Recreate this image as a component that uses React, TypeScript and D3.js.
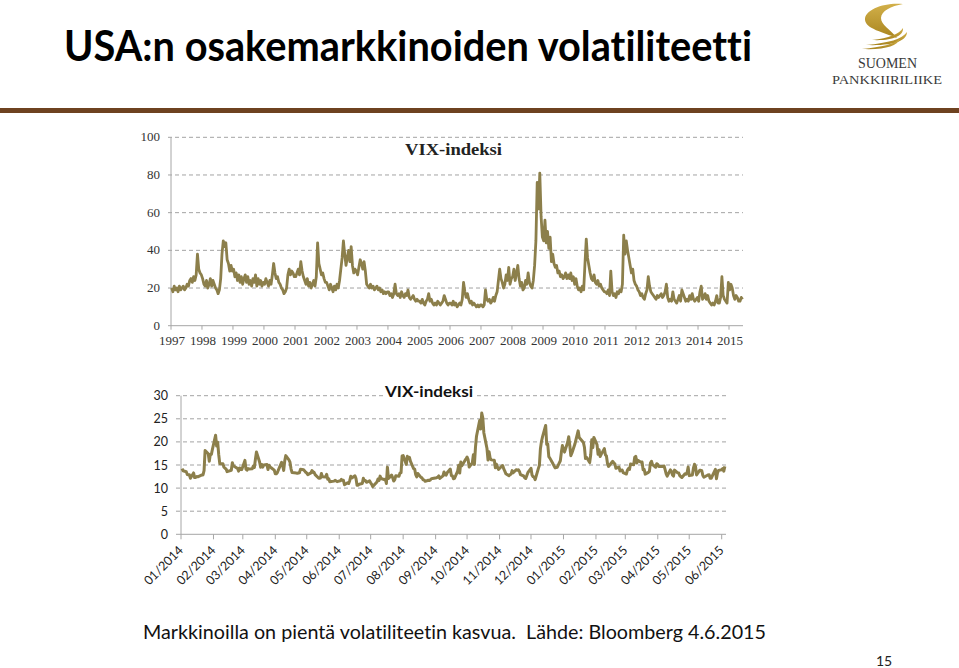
import React from 'react';
import * as d3 from 'd3';

// ---------- data ----------
// Top chart: VIX, two readings per month, one array per year
const vix1997 = [20, 18, 21, 19, 20, 18, 21, 19, 20, 21, 19, 20, 22, 21, 24, 25, 23, 26, 24, 27, 38, 30, 28, 27];
const vix1998 = [25, 22, 21, 24, 20, 22, 25, 21, 24, 22, 20, 19, 17, 19, 25, 38, 45, 42, 44, 35, 33, 29, 32, 29];
const vix1999 = [30, 26, 28, 24, 27, 23, 26, 22, 25, 27, 23, 26, 22, 24, 21, 25, 23, 27, 21, 25, 22, 24, 21, 23];
const vix2000 = [22, 25, 23, 21, 24, 22, 27, 33, 28, 25, 26, 23, 22, 20, 19, 17, 18, 20, 27, 30, 27, 29, 28, 26];
const vix2001 = [26, 28, 30, 27, 34, 29, 26, 24, 22, 25, 21, 23, 20, 22, 24, 21, 26, 44, 33, 30, 27, 28, 25, 23];
const vix2002 = [23, 21, 19, 22, 20, 18, 21, 19, 22, 20, 24, 30, 36, 45, 38, 32, 36, 40, 34, 42, 32, 28, 30, 29];
const vix2003 = [27, 31, 35, 33, 30, 34, 29, 22, 21, 20, 22, 20, 21, 19, 20, 21, 19, 20, 18, 19, 17, 18, 17, 18];
const vix2004 = [18, 16, 17, 15, 17, 22, 17, 16, 17, 15, 18, 16, 15, 17, 16, 19, 15, 14, 15, 16, 14, 13, 14, 13];
const vix2005 = [13, 12, 14, 12, 11, 13, 14, 17, 13, 14, 12, 11, 12, 11, 13, 12, 11, 12, 13, 16, 14, 12, 11, 12];
const vix2006 = [12, 11, 13, 11, 12, 10, 11, 12, 11, 14, 23, 18, 15, 17, 14, 12, 13, 11, 12, 11, 10, 11, 10, 11];
const vix2007 = [11, 10, 11, 19, 14, 13, 14, 12, 13, 15, 13, 16, 18, 24, 30, 25, 23, 20, 22, 27, 24, 31, 22, 25];
const vix2008 = [26, 30, 24, 28, 32, 25, 21, 23, 19, 20, 24, 22, 28, 23, 21, 20, 24, 32, 45, 76, 62, 81, 58, 47];
const vix2009 = [45, 56, 44, 50, 41, 47, 34, 38, 33, 31, 32, 28, 29, 26, 27, 25, 26, 28, 25, 27, 25, 28, 24, 26];
const vix2010 = [22, 25, 21, 19, 20, 18, 21, 19, 33, 46, 36, 32, 28, 25, 24, 27, 23, 22, 24, 21, 22, 20, 19, 18];
const vix2011 = [18, 17, 19, 16, 29, 18, 16, 17, 15, 18, 17, 19, 18, 22, 48, 38, 45, 40, 36, 32, 28, 30, 24, 22];
const vix2012 = [21, 19, 18, 16, 17, 15, 14, 17, 19, 26, 21, 18, 17, 16, 15, 14, 16, 15, 16, 17, 15, 16, 18, 22];
const vix2013 = [15, 13, 14, 13, 18, 14, 13, 12, 14, 16, 13, 19, 17, 15, 13, 14, 13, 16, 14, 17, 14, 13, 14, 15];
const vix2014 = [13, 18, 21, 14, 15, 17, 14, 16, 13, 12, 11, 12, 11, 13, 16, 12, 12, 15, 26, 16, 14, 13, 12, 23];
const vix2015 = [19, 22, 20, 16, 14, 16, 15, 13, 13, 15, 14];
const topYears = [1997, 1998, 1999, 2000, 2001, 2002, 2003, 2004, 2005, 2006, 2007, 2008, 2009, 2010, 2011, 2012, 2013, 2014, 2015];
const topYearValues = [vix1997, vix1998, vix1999, vix2000, vix2001, vix2002, vix2003, vix2004, vix2005, vix2006, vix2007, vix2008, vix2009, vix2010, vix2011, vix2012, vix2013, vix2014, vix2015];
const topYTicks = [0, 20, 40, 60, 80, 100];
const topXLabels = ['1997', '1998', '1999', '2000', '2001', '2002', '2003', '2004', '2005', '2006', '2007', '2008', '2009', '2010', '2011', '2012', '2013', '2014', '2015'];

// Bottom chart: daily VIX closes, one array per month
const daily2014 = [
  [14.23, 13.76, 13.55, 12.92, 12.87, 12.89, 12.14, 13.28, 12.28, 12.28, 12.53, 12.44, 12.87, 12.84, 13.77, 18.14, 17.42, 15.8, 17.35, 17.29, 18.41],
  [21.44, 19.11, 19.95, 17.23, 15.29, 15.26, 14.51, 14.3, 14.15, 13.57, 13.87, 15.5, 14.79, 14.68, 14.23, 13.67, 14.35, 14.04, 14.0],
  [16.0, 14.1, 13.89, 14.21, 14.11, 14.2, 14.8, 14.47, 16.22, 17.82, 15.64, 14.52, 15.12, 14.52, 15.0, 15.09, 14.02, 14.93, 14.62, 14.41, 13.88],
  [13.1, 13.09, 13.37, 13.96, 15.57, 14.89, 13.82, 15.89, 17.03, 16.11, 15.61, 14.18, 13.36, 13.25, 13.19, 13.27, 13.32, 14.06, 13.97, 13.71, 13.41],
  [13.25, 12.91, 13.29, 13.8, 13.4, 13.43, 12.92, 12.23, 12.13, 12.17, 13.17, 12.44, 12.42, 12.96, 11.91, 12.03, 11.36, 11.51, 11.68, 11.57, 11.4],
  [11.58, 11.87, 11.68, 11.68, 10.73, 11.15, 10.99, 11.6, 12.56, 12.18, 12.65, 12.06, 10.61, 10.62, 10.85, 10.98, 12.13, 11.59, 11.63, 11.26, 11.57],
  [11.15, 10.82, 10.32, 11.33, 11.98, 11.65, 12.59, 12.08, 11.82, 11.96, 11.0, 14.54, 12.06, 12.81, 12.24, 11.52, 11.84, 12.69, 12.56, 13.28, 13.33, 16.95],
  [17.03, 15.12, 16.87, 16.37, 16.66, 15.77, 14.23, 14.13, 12.9, 12.42, 13.15, 12.32, 12.21, 11.78, 11.76, 11.47, 11.7, 11.63, 11.78, 12.05, 12.09],
  [12.25, 12.36, 12.64, 12.09, 12.66, 13.5, 12.88, 12.8, 13.31, 14.12, 12.73, 12.65, 12.03, 12.11, 13.69, 14.93, 13.27, 15.64, 14.85, 15.98, 16.31],
  [16.71, 16.16, 14.55, 15.46, 17.2, 15.11, 18.76, 21.24, 24.64, 22.79, 26.25, 25.2, 21.99, 18.57, 16.08, 17.87, 16.53, 16.11, 16.04, 14.39, 15.15, 14.52, 14.03],
  [14.73, 14.89, 14.17, 13.67, 13.12, 12.67, 12.92, 13.02, 13.79, 13.31, 13.99, 13.86, 13.96, 13.58, 12.9, 12.62, 12.25, 12.07, 13.33],
  [14.29, 12.85, 12.47, 12.38, 11.82, 14.21, 14.89, 18.53, 20.08, 21.08, 23.57, 19.44, 19.52, 16.81, 16.49, 15.25, 14.8, 14.37, 14.5, 15.92, 17.79, 19.2],
];
const daily2015 = [
  [17.79, 19.92, 21.12, 19.31, 17.01, 17.55, 19.6, 20.56, 21.48, 22.39, 20.95, 19.89, 18.85, 16.4, 16.66, 15.52, 17.22, 20.44, 18.76, 20.97],
  [19.43, 17.33, 18.33, 16.85, 17.29, 18.55, 17.23, 16.96, 15.34, 14.69, 15.8, 15.45, 15.29, 14.3, 14.56, 13.69, 13.84, 13.91, 13.34],
  [13.04, 13.86, 14.23, 14.04, 15.2, 15.06, 16.69, 16.87, 15.42, 16.0, 15.61, 15.66, 13.97, 14.07, 13.02, 13.41, 13.62, 15.44, 15.8, 15.07, 14.51, 15.29],
  [15.11, 14.67, 14.74, 14.78, 13.98, 13.09, 12.58, 13.94, 13.67, 12.84, 12.6, 13.89, 13.3, 13.25, 12.71, 12.48, 12.29, 13.12, 13.03, 13.39, 14.55],
  [12.7, 12.85, 14.31, 15.15, 14.71, 12.86, 13.85, 13.86, 13.76, 12.74, 12.38, 12.73, 12.85, 12.88, 12.11, 12.13, 14.06, 12.03, 13.31, 13.84],
  [13.97, 14.24, 13.66, 14.71],
];
const marketHolidays = ['2014-01-01', '2014-01-20', '2014-02-17', '2014-04-18', '2014-05-26', '2014-07-04', '2014-09-01', '2014-11-27', '2014-12-25', '2015-01-01', '2015-01-19', '2015-02-16', '2015-04-03', '2015-05-25'];
const bottomYTicks = [0, 5, 10, 15, 20, 25, 30];
const monthLabels = ['01/2014', '02/2014', '03/2014', '04/2014', '05/2014', '06/2014', '07/2014', '08/2014', '09/2014', '10/2014', '11/2014', '12/2014', '01/2015', '02/2015', '03/2015', '04/2015', '05/2015', '06/2015'];

const titleText = 'USA:n osakemarkkinoiden volatiliteetti';
const chartTitle = 'VIX-indeksi';
const footerText = 'Markkinoilla on pientä volatiliteetin kasvua.  Lähde: Bloomberg 4.6.2015';
const pageNo = '15';

// ---------- helpers ----------
const LINE = '#8c7f4b';
const GRID = '#a3a3a3';
const AXIS = '#a6a6a6';

function topPoints() {
  const pts: { d: Date; v: number }[] = [];
  topYears.forEach((y, k) => {
    const start = new Date(Date.UTC(y, 0, 1)).getTime();
    const end = new Date(Date.UTC(y + 1, 0, 1)).getTime();
    topYearValues[k].forEach((v, i) => {
      pts.push({ d: new Date(start + ((i + 0.5) / 24) * (end - start)), v });
    });
  });
  return pts;
}

function dailyPoints() {
  const pts: { d: Date; v: number }[] = [];
  const hol = new Set(marketHolidays);
  const months = [
    ...daily2014.map((vals, m) => ({ y: 2014, m, vals })),
    ...daily2015.map((vals, m) => ({ y: 2015, m, vals })),
  ];
  months.forEach(({ y, m, vals }) => {
    const days: Date[] = [];
    const dim = new Date(Date.UTC(y, m + 1, 0)).getUTCDate();
    for (let d = 1; d <= dim; d++) {
      const dt = new Date(Date.UTC(y, m, d));
      const wd = dt.getUTCDay();
      const key = dt.toISOString().slice(0, 10);
      if (wd !== 0 && wd !== 6 && !hol.has(key)) days.push(dt);
    }
    vals.forEach((v, i) => {
      pts.push({ d: days[Math.min(i, days.length - 1)], v });
    });
  });
  return pts;
}

const noLig: React.CSSProperties = { fontVariantLigatures: 'none', fontFeatureSettings: '"liga" 0, "clig" 0' };

export default function App() {
  // top chart scales
  const xTop = d3.scaleUtc().domain([new Date(Date.UTC(1997, 0, 1)), new Date(Date.UTC(2015, 0, 1))]).range([171, 729]);
  const yTop = d3.scaleLinear().domain([0, 100]).range([325.7, 137.3]);
  const topRight = 743;
  const tp = topPoints();
  const topLine = d3.line<{ d: Date; v: number }>().x((p) => xTop(p.d)).y((p) => yTop(p.v))(tp) || '';

  // bottom chart scales
  const xBot = d3.scaleUtc().domain([new Date(Date.UTC(2014, 0, 1)), new Date(Date.UTC(2015, 5, 1))]).range([181, 721.7]);
  const yBot = d3.scaleLinear().domain([0, 30]).range([534.3, 395.7]);
  const botRight = 726;
  const bp = dailyPoints();
  const botLine = d3.line<{ d: Date; v: number }>().x((p) => xBot(p.d)).y((p) => yBot(p.v))(bp) || '';
  const monthTicks = monthLabels.map((_, i) => new Date(Date.UTC(2014, i, 1)));

  const serif = "'Liberation Serif', 'DejaVu Serif', serif";
  const sans = "Lato, 'Open Sans', sans-serif";

  return (
    <div style={{ position: 'absolute', left: 0, top: 0, width: 959, height: 668, background: '#fff' }}>
      <svg width={959} height={668} viewBox="0 0 959 668" style={{ display: 'block' }}>
        <defs>
          <linearGradient id="gold" x1="0" y1="0" x2="0" y2="1">
            <stop offset="0" stopColor="#d2b04a" />
            <stop offset="1" stopColor="#a9851f" />
          </linearGradient>
        </defs>
        <rect x={0} y={0} width={959} height={668} fill="#fff" />
        {/* main title */}
        <text x={64} y={61} fontFamily={sans} fontWeight={700} fontSize={42} fill="#000" textLength={688} lengthAdjust="spacingAndGlyphs" style={noLig}>
          {titleText}
        </text>

        {/* logo */}
        <g fill="url(#gold)">
          <path d="M903 4 C886 2, 864 9, 865 20 C866 29, 883 32, 897 38 C890 29, 881 25, 881 18 C881 11, 891 6, 903 4 Z" />
          <path d="M903 28 C904 36, 892 41, 872 40 C889 38, 899 34, 903 28 Z" />
          <path d="M907 32 C907 41, 893 46, 866 45 C889 43, 902 39, 907 32 Z" />
          <path d="M900 39 C897 46, 885 50, 862 49 C882 47, 894 44, 900 39 Z" />
        </g>
        <text x={858} y={68} fontFamily={serif} fontSize={14} fill="#3a3a3a" textLength={59} lengthAdjust="spacingAndGlyphs">SUOMEN</text>
        <text x={832} y={84} fontFamily={serif} fontSize={13} fill="#3a3a3a" textLength={110} lengthAdjust="spacingAndGlyphs">PANKKIIRILIIKE</text>

        {/* separator */}
        <rect x={0} y={108} width={959} height={5} fill="#6e4220" />

        {/* ---------- top chart ---------- */}
        {topYTicks.filter((t) => t > 0).map((t) => (
          <line key={'tg' + t} x1={168} x2={topRight} y1={yTop(t)} y2={yTop(t)} stroke={GRID} strokeWidth={1} strokeDasharray="4 3" />
        ))}
        <line x1={171} x2={171} y1={yTop(100)} y2={yTop(0)} stroke={AXIS} strokeWidth={1} />
        <line x1={168} x2={topRight} y1={yTop(0)} y2={yTop(0)} stroke={AXIS} strokeWidth={1} />
        {topYTicks.map((t) => (
          <text key={'ty' + t} x={160} y={yTop(t) + 4} textAnchor="end" fontFamily={serif} fontSize={13} fill="#333">{t}</text>
        ))}
        {topXLabels.map((lab, i) => {
          const x = xTop(new Date(Date.UTC(1997 + i, 0, 1)));
          return (
            <g key={'tx' + lab}>
              <line x1={x} x2={x} y1={yTop(0)} y2={yTop(0) + 4} stroke={AXIS} strokeWidth={1} />
              <text x={x + 1} y={345} textAnchor="middle" fontFamily={serif} fontSize={13} fill="#333">{lab}</text>
            </g>
          );
        })}
        <text x={405} y={154.5} fontFamily={serif} fontWeight={700} fontSize={17} fill="#222" textLength={97} lengthAdjust="spacingAndGlyphs">{chartTitle}</text>
        <path d={topLine} fill="none" stroke={LINE} strokeWidth={2.8} strokeLinejoin="round" />

        {/* ---------- bottom chart ---------- */}
        {bottomYTicks.filter((t) => t > 0).map((t) => (
          <line key={'bg' + t} x1={176} x2={botRight} y1={yBot(t)} y2={yBot(t)} stroke={GRID} strokeWidth={1} strokeDasharray="4 3" />
        ))}
        <line x1={181} x2={181} y1={yBot(30)} y2={yBot(0)} stroke={AXIS} strokeWidth={1} />
        <line x1={176} x2={botRight} y1={yBot(0)} y2={yBot(0)} stroke={AXIS} strokeWidth={1} />
        {bottomYTicks.map((t) => (
          <text key={'by' + t} x={168} y={yBot(t) + 4.5} textAnchor="end" fontFamily={sans} fontSize={12.5} fill="#222">{t}</text>
        ))}
        {monthLabels.map((lab, i) => {
          const x = xBot(monthTicks[i]);
          return (
            <g key={'bx' + lab}>
              <line x1={x} x2={x} y1={yBot(0)} y2={yBot(0) + 5} stroke={AXIS} strokeWidth={1} />
              <text transform={`translate(${x + 3},${551}) rotate(-45)`} textAnchor="end" fontFamily={sans} fontSize={12.5} fill="#222">{lab}</text>
            </g>
          );
        })}
        <rect x={383} y={382} width={93} height={18} fill="#fff" />
        <text x={385} y={397} fontFamily={sans} fontWeight={700} fontSize={16} fill="#111" textLength={88} lengthAdjust="spacingAndGlyphs">{chartTitle}</text>
        <path d={botLine} fill="none" stroke={LINE} strokeWidth={3} strokeLinejoin="round" />

        {/* footer */}
        <text x={143} y={639} fontFamily={sans} fontSize={20} fill="#111" textLength={623} lengthAdjust="spacingAndGlyphs" style={{ whiteSpace: 'pre', ...noLig }}>{footerText}</text>
        <text x={876} y={666} fontFamily={sans} fontSize={14} fill="#222">{pageNo}</text>
      </svg>
    </div>
  );
}
